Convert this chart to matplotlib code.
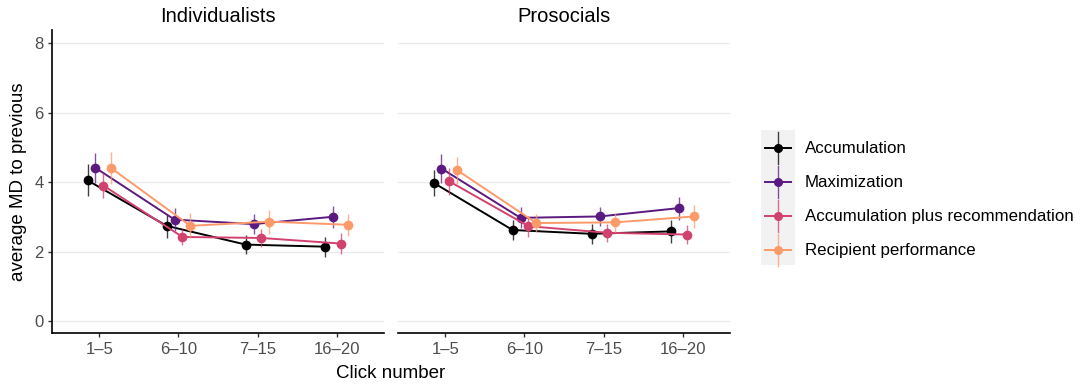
import numpy as np
import matplotlib.pyplot as plt
from matplotlib.patches import Rectangle

plt.rcParams['font.family'] = ['Liberation Sans', 'DejaVu Sans']

clicks = ["1–5", "6–10", "7–15", "16–20"]
conditions = ["Accumulation", "Maximization", "Accumulation plus recommendation", "Recipient performance"]
colors = ["#000000", "#5B1A80", "#D1426F", "#FD9A6A"]
panels = ["Individualists", "Prosocials"]

# mean MD to previous, one list per condition
indiv_mean = [
    [4.05, 2.74, 2.20, 2.14],
    [4.41, 2.92, 2.79, 3.00],
    [3.90, 2.42, 2.39, 2.23],
    [4.40, 2.74, 2.86, 2.77],
]
indiv_err = [
    [0.46, 0.35, 0.27, 0.29],
    [0.44, 0.34, 0.29, 0.32],
    [0.36, 0.24, 0.26, 0.30],
    [0.46, 0.36, 0.35, 0.32],
]
prosoc_mean = [
    [3.98, 2.62, 2.51, 2.58],
    [4.39, 2.97, 3.01, 3.25],
    [4.02, 2.73, 2.54, 2.49],
    [4.34, 2.82, 2.84, 3.01],
]
prosoc_err = [
    [0.38, 0.29, 0.29, 0.32],
    [0.42, 0.30, 0.28, 0.33],
    [0.40, 0.30, 0.26, 0.26],
    [0.39, 0.27, 0.28, 0.32],
]

dodge = [-0.15, -0.05, 0.05, 0.15]

fig = plt.figure(figsize=(10.83, 3.89), dpi=100)
W, H = 1083, 389
bottom = (H - 333.3) / H
height = (333.3 - 30) / H
ax1 = fig.add_axes([52 / W, bottom, 332 / W, height])
ax2 = fig.add_axes([398 / W, bottom, 332 / W, height])

x = np.arange(len(clicks))
for ax, title, means, errs in [(ax1, panels[0], indiv_mean, indiv_err),
                               (ax2, panels[1], prosoc_mean, prosoc_err)]:
    for i, (m, e) in enumerate(zip(means, errs)):
        xs = x + dodge[i]
        ax.plot(xs, m, color=colors[i], lw=1.4, zorder=3 + i)
        ax.errorbar(xs, m, yerr=e, fmt='none', ecolor=colors[i], elinewidth=1.0,
                    alpha=0.75, zorder=3 + i)
        ax.plot(xs, m, 'o', color=colors[i], ms=7, mec='none', zorder=3 + i)
    ax.set_xlim(-0.6, 3.6)
    ax.set_ylim(-0.355, 8.38)
    ax.set_yticks([0, 2, 4, 6, 8])
    ax.set_xticks(x)
    ax.set_xticklabels(clicks)
    ax.grid(axis='y', color='#EBEBEB', lw=1.0)
    ax.set_axisbelow(True)
    for s in ['top', 'right']:
        ax.spines[s].set_visible(False)
    ax.spines['bottom'].set_linewidth(1.2)
    ax.spines['left'].set_linewidth(1.2)
    ax.tick_params(axis='both', colors='#333333', labelcolor='#4D4D4D', labelsize=12,
                   length=3, width=1.0, pad=3)
    ax.set_title(title, fontsize=14.5, pad=6)

ax2.spines['left'].set_visible(False)
ax2.tick_params(axis='y', left=False, labelleft=False)

ax1.set_ylabel("average MD to previous", fontsize=13.5, labelpad=5)
fig.text(391 / W, 1 - 374 / H, "Click number", fontsize=13.5, ha='center', va='center')

# legend drawn as its own panel with grey key boxes
lax = fig.add_axes([0, 0, 1, 1])
lax.set_xlim(0, W)
lax.set_ylim(H, 0)
lax.axis('off')
lax.add_patch(Rectangle((761, 130), 34, 135, color='#F2F2F2', lw=0))
for i, name in enumerate(conditions):
    yc = 148 + 34 * i
    lax.plot([765, 791], [yc, yc], color=colors[i], lw=1.4)
    lax.plot([778, 778], [yc - 16, yc + 16], color=colors[i], lw=1.0, alpha=0.75)
    lax.plot([778], [yc], 'o', color=colors[i], ms=6.5, mec='none')
    lax.text(805, yc, name, fontsize=12.2, va='center', ha='left')

fig.savefig("out.png", dpi=100)
